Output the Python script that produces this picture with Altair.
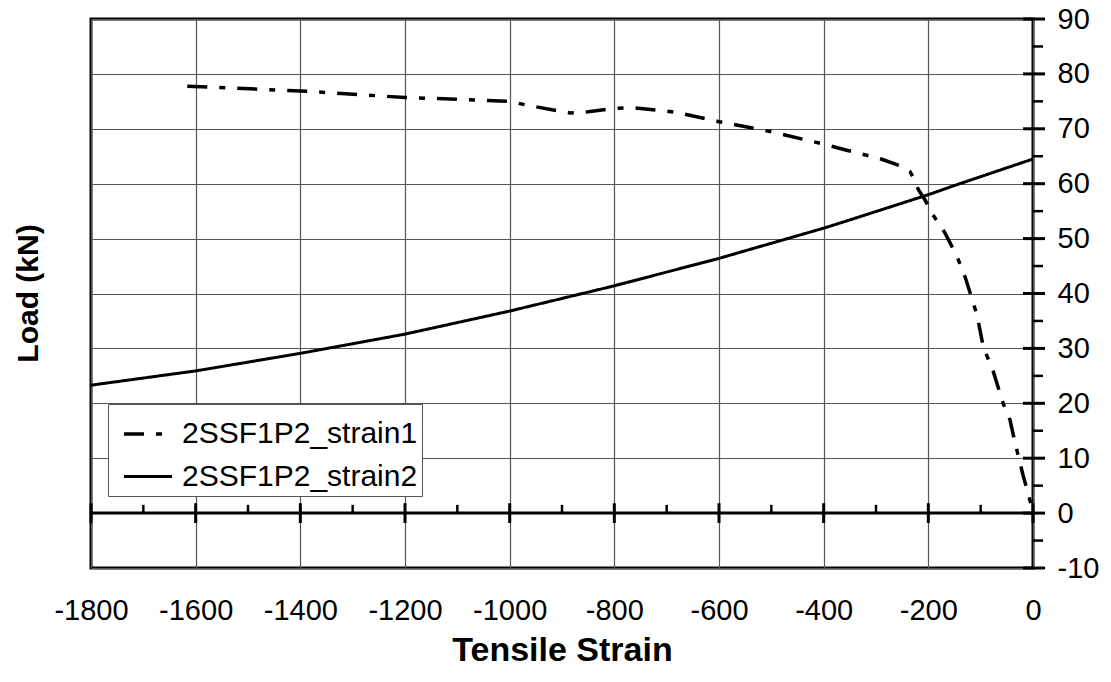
import altair as alt
import pandas as pd

series_names = ["2SSF1P2_strain1", "2SSF1P2_strain2"]

strain1_x = [-1616, -1400, -1200, -1100, -1000, -967, -885, -850, -800, -764, -681,
             -600, -502, -400, -356, -327, -289, -250, -235, -228, -219, -206, -193,
             -168, -145, -130, -107, -95, -76, -57, -44, -34, -19, -6, 0]
strain1_y = [77.75, 76.9, 75.7, 75.4, 75.0, 74.3, 72.9, 73.1, 73.7, 73.85, 73.0,
             71.3, 69.5, 67.2, 66.1, 65.4, 64.45, 63.1, 62.2, 61.0, 58.9, 57.0, 54.6,
             51.0, 46.7, 43.1, 36.1, 30.3, 25.8, 20.0, 17.0, 12.7, 6.9, 2.4, 0.0]

strain2_x = [-1800, -1600, -1400, -1200, -1000, -800, -600, -400, -350, -200, -140, 0]
strain2_y = [23.3, 25.9, 29.1, 32.6, 36.8, 41.4, 46.4, 51.9, 53.4, 58.0, 60.0, 64.5]

x_ticks = [-1800, -1600, -1400, -1200, -1000, -800, -600, -400, -200, 0]
x_minor = [-1700, -1500, -1300, -1100, -900, -700, -500, -300, -100]
y_ticks = [-10, 0, 10, 20, 30, 40, 50, 60, 70, 80, 90]
y_minor = [-5, 5, 15, 25, 35, 45, 55, 65, 75, 85]

W, H = 942, 549
FONT = "Liberation Sans"

df = pd.concat([
    pd.DataFrame({"strain": strain1_x, "load": strain1_y, "series": series_names[0]}),
    pd.DataFrame({"strain": strain2_x, "load": strain2_y, "series": series_names[1]}),
])

xs = alt.Scale(domain=[-1800, 0], nice=False, zero=False)
ys = alt.Scale(domain=[-10, 90], nice=False, zero=False)

x_axis = alt.Axis(
    values=x_ticks, title="Tensile Strain", ticks=False, domain=False, grid=True,
    gridColor="#555555", gridWidth=1.2, labelFontSize=29, labelFont=FONT,
    labelColor="black", labelPadding=28, labelExpr="'' + datum.value",
    labelOverlap=False, labelFlush=False,
    titleFont=FONT, titleFontSize=34,
    titleFontWeight="bold", titleColor="black", titlePadding=8)

y_axis = alt.Axis(
    orient="right", values=y_ticks, ticks=False, domain=False, grid=True,
    gridColor="#555555", gridWidth=1.2, labelFontSize=29,
    labelFont=FONT, labelColor="black", labelPadding=24,
    labelExpr="'' + datum.value", labelOverlap=False, labelFlush=False,
    title="Load (kN)", titleFont=FONT, titleFontSize=30, titleFontWeight="bold",
    titleColor="black", titleAngle=270, titleX=28 - 91 - W, titleY=274,
    titleAlign="center", titleBaseline="middle")

lines = alt.Chart(df).mark_line(color="black").encode(
    x=alt.X("strain:Q", scale=xs, axis=x_axis),
    y=alt.Y("load:Q", scale=ys, axis=y_axis),
    strokeDash=alt.StrokeDash("series:N", scale=alt.Scale(
        domain=series_names, range=[[20, 12, 6, 12], [1, 0]]),
        legend=alt.Legend(orient="none", legendX=17, legendY=385, title=None,
                          fillColor="white", strokeColor="#555555", padding=4,
                          labelFontSize=30, labelFont=FONT, labelColor="black",
                          labelLimit=0, symbolOffset=10,
                          symbolType="stroke", symbolSize=2304, symbolStrokeWidth=3.5,
                          symbolStrokeColor="black", rowPadding=2, labelOffset=8,
                          cornerRadius=0)),
    strokeWidth=alt.StrokeWidth("series:N", scale=alt.Scale(
        domain=series_names, range=[3.5, 3]), legend=None),
)

zero_line = alt.Chart(pd.DataFrame({"load": [0]})).mark_rule(color="black", strokeWidth=3).encode(
    y=alt.Y("load:Q", scale=ys, axis=y_axis), x=alt.value(0), x2=alt.value(W))

y_major = alt.Chart(pd.DataFrame({"load": y_ticks})).mark_rule(color="black", strokeWidth=3).encode(
    y=alt.Y("load:Q", scale=ys, axis=y_axis),
    x=alt.value(W - 10), x2=alt.value(W + 12))

y_min = alt.Chart(pd.DataFrame({"load": y_minor})).mark_rule(color="black", strokeWidth=2.5).encode(
    y=alt.Y("load:Q", scale=ys, axis=y_axis), x=alt.value(W), x2=alt.value(W + 10))

x_major = alt.Chart(pd.DataFrame({"strain": x_ticks})).mark_rule(color="black", strokeWidth=3).encode(
    x=alt.X("strain:Q", scale=xs, axis=x_axis),
    y=alt.Y(datum=-1.8, scale=ys, axis=y_axis), y2=alt.Y2(datum=1.8))

x_min = alt.Chart(pd.DataFrame({"strain": x_minor})).mark_rule(color="black", strokeWidth=2.5).encode(
    x=alt.X("strain:Q", scale=xs, axis=x_axis),
    y=alt.Y(datum=0, scale=ys, axis=y_axis), y2=alt.Y2(datum=1.5))

chart = alt.layer(lines, zero_line, x_major, x_min, y_major, y_min).properties(
    width=W, height=H, autosize=alt.AutoSizeParams(type="none"),
    padding={"left": 91, "top": 19, "right": 78, "bottom": 114},
    background="white",
).configure_view(stroke="black", strokeWidth=3)

chart.save("out.html", embed_options={"renderer": "svg", "actions": False})
